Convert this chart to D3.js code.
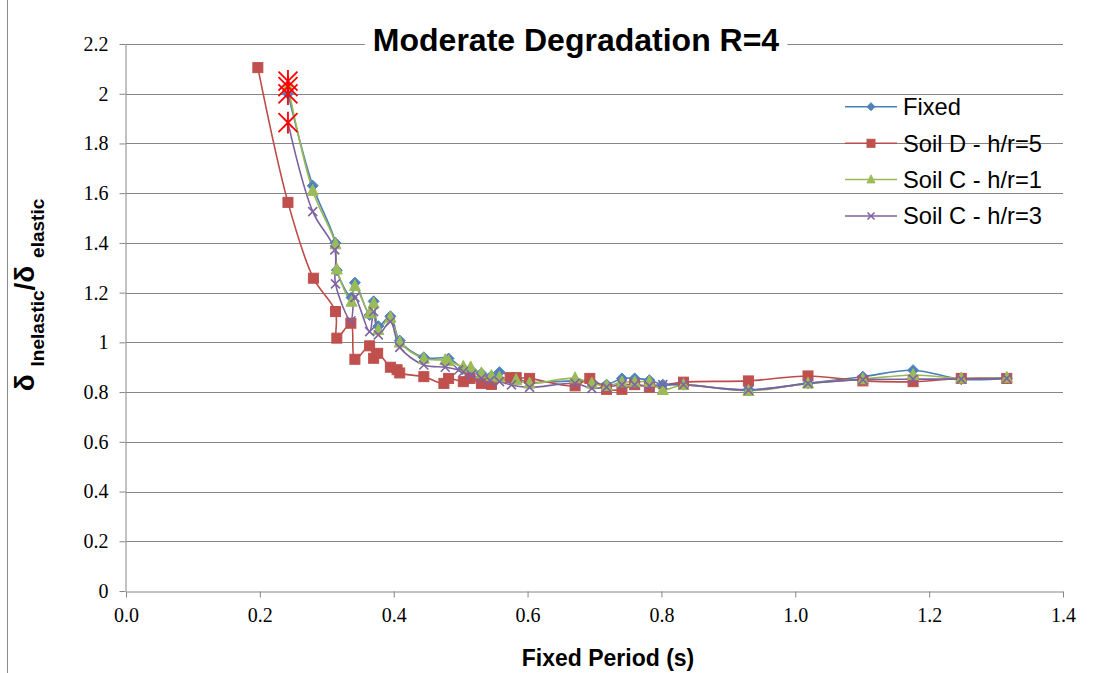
<!DOCTYPE html>
<html>
<head>
<meta charset="utf-8">
<script src="https://cdn.jsdelivr.net/npm/d3@7"></script>
<style>
  html, body { margin: 0; padding: 0; background: #fff; }
  svg { display: block; }
</style>
</head>
<body>
<svg id="chart" width="1098" height="673"></svg>
<script>
// ---------- data ----------
const chartTitle = "Moderate Degradation R=4";
const xTicks = [0.0, 0.2, 0.4, 0.6, 0.8, 1.0, 1.2, 1.4];
const yTicks = [0, 0.2, 0.4, 0.6, 0.8, 1, 1.2, 1.4, 1.6, 1.8, 2, 2.2];
const seriesNames = ["Fixed", "Soil D - h/r=5", "Soil C - h/r=1", "Soil C - h/r=3"];

const fixedPeriod = [0.242, 0.279, 0.313, 0.315, 0.337, 0.342, 0.364, 0.370, 0.377, 0.395, 0.409, 0.445, 0.482, 0.504, 0.515, 0.531, 0.546, 0.558, 0.583, 0.603, 0.671, 0.696, 0.718, 0.741, 0.760, 0.782, 0.802, 0.833, 0.930, 1.019, 1.101, 1.176, 1.248, 1.316];
const fixedValues = [2.00, 1.63, 1.40, 1.29, 1.18, 1.24, 1.11, 1.165, 1.065, 1.105, 1.007, 0.94, 0.935, 0.895, 0.89, 0.875, 0.865, 0.88, 0.855, 0.84, 0.845, 0.84, 0.83, 0.855, 0.855, 0.848, 0.83, 0.83, 0.81, 0.835, 0.862, 0.888, 0.852, 0.855];

const soilD5Period = [0.197, 0.242, 0.280, 0.313, 0.315, 0.336, 0.342, 0.364, 0.370, 0.376, 0.395, 0.405, 0.409, 0.445, 0.475, 0.482, 0.504, 0.514, 0.531, 0.546, 0.574, 0.583, 0.603, 0.671, 0.693, 0.718, 0.741, 0.760, 0.782, 0.833, 0.930, 1.019, 1.101, 1.176, 1.248, 1.316];
const soilD5Values = [2.105, 1.563, 1.258, 1.124, 1.017, 1.077, 0.932, 0.986, 0.936, 0.956, 0.90, 0.89, 0.877, 0.862, 0.835, 0.855, 0.842, 0.855, 0.835, 0.831, 0.858, 0.858, 0.855, 0.825, 0.855, 0.811, 0.811, 0.83, 0.82, 0.84, 0.845, 0.865, 0.845, 0.842, 0.855, 0.855];

const soilC1Period = [0.242, 0.279, 0.313, 0.315, 0.337, 0.342, 0.364, 0.370, 0.377, 0.395, 0.409, 0.445, 0.477, 0.482, 0.504, 0.515, 0.531, 0.546, 0.558, 0.583, 0.603, 0.671, 0.696, 0.718, 0.741, 0.760, 0.782, 0.802, 0.833, 0.930, 1.019, 1.101, 1.176, 1.248, 1.316];
const soilC1Values = [2.03, 1.61, 1.395, 1.294, 1.164, 1.227, 1.117, 1.157, 1.05, 1.10, 1.0, 0.935, 0.929, 0.925, 0.902, 0.90, 0.876, 0.865, 0.86, 0.849, 0.835, 0.856, 0.835, 0.825, 0.84, 0.84, 0.842, 0.809, 0.829, 0.805, 0.835, 0.852, 0.869, 0.855, 0.858];

const soilC3Period = [0.242, 0.279, 0.312, 0.313, 0.336, 0.342, 0.364, 0.370, 0.377, 0.395, 0.409, 0.445, 0.477, 0.497, 0.504, 0.516, 0.531, 0.544, 0.558, 0.576, 0.603, 0.671, 0.696, 0.718, 0.741, 0.760, 0.782, 0.802, 0.833, 0.930, 1.019, 1.101, 1.176, 1.248, 1.316];
const soilC3Values = [1.884, 1.526, 1.372, 1.235, 1.087, 1.181, 1.043, 1.124, 1.03, 1.083, 0.98, 0.909, 0.90, 0.889, 0.882, 0.869, 0.855, 0.846, 0.842, 0.829, 0.819, 0.835, 0.815, 0.82, 0.83, 0.83, 0.825, 0.83, 0.83, 0.808, 0.835, 0.85, 0.852, 0.852, 0.855];

// highlighted points (red star markers)
const starPeriod = [0.242, 0.242, 0.242, 0.242];
const starValues = [2.051, 2.029, 1.999, 1.884];

// ---------- layout ----------
const svg = d3.select("#chart");
const W = 1098, H = 673;
const plot = { left: 126, right: 1063, top: 44, bottom: 591 };

const x = d3.scaleLinear().domain([0, 1.4]).range([plot.left, plot.right]);
const y = d3.scaleLinear().domain([0, 2.2]).range([plot.bottom, plot.top]);

svg.append("rect").attr("width", W).attr("height", H).attr("fill", "#fff");
// chart area border (left edge visible)
svg.append("line").attr("x1", 7.5).attr("x2", 7.5).attr("y1", 0).attr("y2", H)
  .attr("stroke", "#8c8c8c").attr("stroke-width", 1);

// gridlines
svg.append("g")
  .selectAll("line").data(yTicks.filter(d => d > 0)).join("line")
  .attr("x1", plot.left).attr("x2", plot.right)
  .attr("y1", d => Math.round(y(d)) + 0.5).attr("y2", d => Math.round(y(d)) + 0.5)
  .attr("stroke", "#868686").attr("stroke-width", 1);

// x axis
const xAxis = d3.axisBottom(x).tickValues(xTicks).tickFormat(d3.format(".1f")).tickSize(6).tickSizeOuter(0);
const gx = svg.append("g").attr("transform", `translate(0,${Math.round(y(0)) + 0.5})`).call(xAxis);
gx.select(".domain").attr("stroke", "#868686");
gx.selectAll(".tick line").attr("stroke", "#868686");
gx.selectAll("text").attr("font-family", "'Liberation Serif', serif").attr("font-size", 20)
  .attr("fill", "#000").attr("dy", "1.05em");

// y axis
const yAxis = d3.axisLeft(y).tickValues(yTicks).tickFormat(d => d3.format("")(+d.toFixed(1))).tickSize(6).tickSizeOuter(0);
const gy = svg.append("g").attr("transform", `translate(${plot.left - 0.5},0)`).call(yAxis);
gy.select(".domain").attr("stroke", "#868686");
gy.selectAll(".tick line").attr("stroke", "#868686");
gy.selectAll("text").attr("font-family", "'Liberation Serif', serif").attr("font-size", 20)
  .attr("fill", "#000").attr("x", -17);

// ---------- series ----------
const series = [
  { name: seriesNames[0], px: fixedPeriod, py: fixedValues, line: "#4A7EBB", fill: "#4F81BD", marker: "diamond" },
  { name: seriesNames[1], px: soilD5Period, py: soilD5Values, line: "#BE4B48", fill: "#C0504D", marker: "square" },
  { name: seriesNames[2], px: soilC1Period, py: soilC1Values, line: "#98B954", fill: "#9BBB59", marker: "triangle" },
  { name: seriesNames[3], px: soilC3Period, py: soilC3Values, line: "#7D60A0", fill: "#8064A2", marker: "cross" }
];

const lineGen = d3.line().x(d => x(d[0])).y(d => y(d[1])).curve(d3.curveCatmullRom.alpha(0.5));

function drawMarker(g, type, cx, cy, s, fill) {
  if (type === "diamond") {
    g.append("path").attr("d", `M${cx},${cy - s}L${cx + s},${cy}L${cx},${cy + s}L${cx - s},${cy}Z`)
      .attr("fill", fill).attr("stroke", fill).attr("stroke-width", 1);
  } else if (type === "square") {
    g.append("rect").attr("x", cx - s).attr("y", cy - s).attr("width", 2 * s).attr("height", 2 * s)
      .attr("fill", fill).attr("stroke", fill).attr("stroke-width", 1);
  } else if (type === "triangle") {
    g.append("path").attr("d", `M${cx},${cy - s * 1.15}L${cx + s},${cy + s * 0.85}L${cx - s},${cy + s * 0.85}Z`)
      .attr("fill", fill).attr("stroke", fill).attr("stroke-width", 1);
  } else if (type === "cross") {
    g.append("path").attr("d", `M${cx - s},${cy - s}L${cx + s},${cy + s}M${cx - s},${cy + s}L${cx + s},${cy - s}`)
      .attr("stroke", fill).attr("stroke-width", 1.6).attr("fill", "none");
  } else if (type === "star") {
    g.append("path").attr("d", `M${cx - s},${cy - s}L${cx + s},${cy + s}M${cx - s},${cy + s}L${cx + s},${cy - s}M${cx},${cy - s * 1.15}L${cx},${cy + s * 1.15}`)
      .attr("stroke", fill).attr("stroke-width", 1.8).attr("fill", "none");
  }
}

const gSeries = svg.append("g");
series.forEach(s => {
  const pts = s.px.map((p, i) => [p, s.py[i]]);
  gSeries.append("path").datum(pts).attr("d", lineGen)
    .attr("fill", "none").attr("stroke", s.line).attr("stroke-width", 1.6);
});
series.forEach(s => {
  const g = gSeries.append("g");
  const size = { diamond: 5.5, square: 5, triangle: 5.5, cross: 4.5 }[s.marker];
  s.px.forEach((p, i) => drawMarker(g, s.marker, x(p), y(s.py[i]), size, s.fill));
});

// highlighted star markers
const gStar = svg.append("g");
starPeriod.forEach((p, i) => drawMarker(gStar, "star", x(p), y(starValues[i]), 9.5, "#FF0000"));

// ---------- title ----------
const titleG = svg.append("g");
const titleText = titleG.append("text").attr("x", 576).attr("y", 51).attr("text-anchor", "middle")
  .attr("font-family", "'Liberation Sans', Arial, sans-serif").attr("font-weight", "bold")
  .attr("font-size", 32).attr("fill", "#000").text(chartTitle);
const tb = titleText.node().getBBox();
titleG.insert("rect", "text").attr("x", tb.x - 8).attr("y", tb.y).attr("width", tb.width + 16).attr("height", tb.height)
  .attr("fill", "#fff");

// ---------- axis titles ----------
svg.append("text").attr("x", 608).attr("y", 666).attr("text-anchor", "middle")
  .attr("font-family", "'Liberation Sans', Arial, sans-serif").attr("font-weight", "bold")
  .attr("font-size", 23).attr("fill", "#000").text("Fixed Period (s)");

const yt = svg.append("text").attr("transform", "translate(34,295) rotate(-90)")
  .attr("text-anchor", "middle")
  .attr("font-family", "'Liberation Sans', Arial, sans-serif").attr("font-weight", "bold").attr("fill", "#000");
yt.append("tspan").attr("font-size", 28).text("δ ");
yt.append("tspan").attr("font-size", 19).attr("dy", 10).text("Inelastic");
yt.append("tspan").attr("font-size", 28).attr("dy", -10).text("/δ ");
yt.append("tspan").attr("font-size", 19).attr("dy", 10).text("elastic");

// ---------- legend ----------
const legendRows = [106.7, 143.3, 179.5, 216];
const lg = svg.append("g");
series.forEach((s, i) => {
  const cy = legendRows[i];
  lg.append("line").attr("x1", 845).attr("x2", 897).attr("y1", cy).attr("y2", cy)
    .attr("stroke", s.line).attr("stroke-width", 1.6);
  const size = { diamond: 4, square: 4, triangle: 4, cross: 3.5 }[s.marker];
  drawMarker(lg, s.marker, 871, cy, size, s.fill);
  lg.append("text").attr("x", 903).attr("y", cy).attr("dy", "0.35em")
    .attr("font-family", "'Liberation Sans', Arial, sans-serif").attr("font-size", 23.7)
    .attr("fill", "#000").text(s.name);
});
</script>
</body>
</html>
